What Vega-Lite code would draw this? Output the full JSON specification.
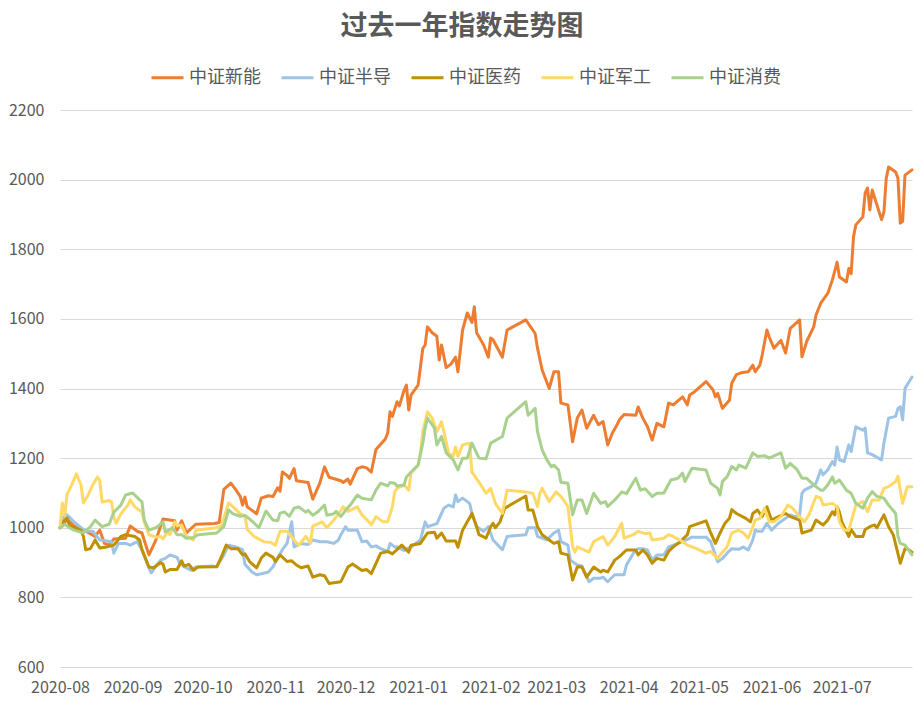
{
"$schema":"https://vega.github.io/schema/vega-lite/v6.json",
"width":852,"height":557,
"autosize":{"type":"none"},
"padding":{"left":60,"top":110,"right":12,"bottom":39},
"background":"white",
"title":{"text":"过去一年指数走势图","font":"Noto Sans CJK SC","fontSize":27,"fontWeight":"bold","color":"#595959","anchor":"middle","dx":-24,"offset":19},
"config":{"view":{"stroke":null}},
"data":{"values":[
{"series":"中证新能","date":"2020-08-01","value":1000},{"series":"中证新能","date":"2020-08-02","value":1005},{"series":"中证新能","date":"2020-08-04","value":1025},{"series":"中证新能","date":"2020-08-07","value":1005},{"series":"中证新能","date":"2020-08-12","value":990},{"series":"中证新能","date":"2020-08-16","value":975},{"series":"中证新能","date":"2020-08-18","value":993},{"series":"中证新能","date":"2020-08-20","value":955},{"series":"中证新能","date":"2020-08-22","value":950},{"series":"中证新能","date":"2020-08-24","value":968},{"series":"中证新能","date":"2020-08-29","value":970},{"series":"中证新能","date":"2020-08-31","value":1005},{"series":"中证新能","date":"2020-09-03","value":990},{"series":"中证新能","date":"2020-09-05","value":985},{"series":"中证新能","date":"2020-09-08","value":922},{"series":"中证新能","date":"2020-09-11","value":965},{"series":"中证新能","date":"2020-09-14","value":1025},{"series":"中证新能","date":"2020-09-19","value":1020},{"series":"中证新能","date":"2020-09-20","value":993},{"series":"中证新能","date":"2020-09-22","value":1020},{"series":"中证新能","date":"2020-09-24","value":985},{"series":"中证新能","date":"2020-09-28","value":1010},{"series":"中证新能","date":"2020-10-06","value":1012},{"series":"中证新能","date":"2020-10-08","value":1015},{"series":"中证新能","date":"2020-10-10","value":1110},{"series":"中证新能","date":"2020-10-13","value":1128},{"series":"中证新能","date":"2020-10-15","value":1110},{"series":"中证新能","date":"2020-10-17","value":1090},{"series":"中证新能","date":"2020-10-18","value":1065},{"series":"中证新能","date":"2020-10-19","value":1088},{"series":"中证新能","date":"2020-10-20","value":1060},{"series":"中证新能","date":"2020-10-24","value":1040},{"series":"中证新能","date":"2020-10-26","value":1085},{"series":"中证新能","date":"2020-10-29","value":1092},{"series":"中证新能","date":"2020-10-31","value":1090},{"series":"中证新能","date":"2020-11-02","value":1115},{"series":"中证新能","date":"2020-11-03","value":1105},{"series":"中证新能","date":"2020-11-04","value":1160},{"series":"中证新能","date":"2020-11-06","value":1150},{"series":"中证新能","date":"2020-11-07","value":1142},{"series":"中证新能","date":"2020-11-09","value":1170},{"series":"中证新能","date":"2020-11-10","value":1135},{"series":"中证新能","date":"2020-11-15","value":1130},{"series":"中证新能","date":"2020-11-17","value":1082},{"series":"中证新能","date":"2020-11-20","value":1128},{"series":"中证新能","date":"2020-11-22","value":1175},{"series":"中证新能","date":"2020-11-24","value":1145},{"series":"中证新能","date":"2020-11-29","value":1135},{"series":"中证新能","date":"2020-11-30","value":1130},{"series":"中证新能","date":"2020-12-02","value":1140},{"series":"中证新能","date":"2020-12-03","value":1125},{"series":"中证新能","date":"2020-12-06","value":1170},{"series":"中证新能","date":"2020-12-08","value":1175},{"series":"中证新能","date":"2020-12-10","value":1172},{"series":"中证新能","date":"2020-12-12","value":1160},{"series":"中证新能","date":"2020-12-14","value":1225},{"series":"中证新能","date":"2020-12-16","value":1240},{"series":"中证新能","date":"2020-12-18","value":1255},{"series":"中证新能","date":"2020-12-19","value":1272},{"series":"中证新能","date":"2020-12-20","value":1333},{"series":"中证新能","date":"2020-12-21","value":1320},{"series":"中证新能","date":"2020-12-23","value":1362},{"series":"中证新能","date":"2020-12-24","value":1350},{"series":"中证新能","date":"2020-12-26","value":1395},{"series":"中证新能","date":"2020-12-27","value":1410},{"series":"中证新能","date":"2020-12-28","value":1338},{"series":"中证新能","date":"2020-12-29","value":1382},{"series":"中证新能","date":"2021-01-01","value":1410},{"series":"中证新能","date":"2021-01-03","value":1515},{"series":"中证新能","date":"2021-01-04","value":1525},{"series":"中证新能","date":"2021-01-05","value":1577},{"series":"中证新能","date":"2021-01-07","value":1560},{"series":"中证新能","date":"2021-01-09","value":1550},{"series":"中证新能","date":"2021-01-10","value":1482},{"series":"中证新能","date":"2021-01-11","value":1525},{"series":"中证新能","date":"2021-01-13","value":1460},{"series":"中证新能","date":"2021-01-15","value":1470},{"series":"中证新能","date":"2021-01-17","value":1490},{"series":"中证新能","date":"2021-01-18","value":1448},{"series":"中证新能","date":"2021-01-20","value":1568},{"series":"中证新能","date":"2021-01-22","value":1617},{"series":"中证新能","date":"2021-01-24","value":1590},{"series":"中证新能","date":"2021-01-25","value":1635},{"series":"中证新能","date":"2021-01-26","value":1560},{"series":"中证新能","date":"2021-01-29","value":1525},{"series":"中证新能","date":"2021-01-31","value":1490},{"series":"中证新能","date":"2021-02-01","value":1545},{"series":"中证新能","date":"2021-02-02","value":1540},{"series":"中证新能","date":"2021-02-06","value":1490},{"series":"中证新能","date":"2021-02-08","value":1568},{"series":"中证新能","date":"2021-02-16","value":1597},{"series":"中证新能","date":"2021-02-20","value":1558},{"series":"中证新能","date":"2021-02-21","value":1516},{"series":"中证新能","date":"2021-02-23","value":1453},{"series":"中证新能","date":"2021-02-26","value":1400},{"series":"中证新能","date":"2021-02-28","value":1448},{"series":"中证新能","date":"2021-03-02","value":1448},{"series":"中证新能","date":"2021-03-03","value":1358},{"series":"中证新能","date":"2021-03-06","value":1353},{"series":"中证新能","date":"2021-03-08","value":1247},{"series":"中证新能","date":"2021-03-10","value":1315},{"series":"中证新能","date":"2021-03-12","value":1338},{"series":"中证新能","date":"2021-03-14","value":1286},{"series":"中证新能","date":"2021-03-17","value":1323},{"series":"中证新能","date":"2021-03-19","value":1296},{"series":"中证新能","date":"2021-03-21","value":1305},{"series":"中证新能","date":"2021-03-23","value":1238},{"series":"中证新能","date":"2021-03-25","value":1272},{"series":"中证新能","date":"2021-03-27","value":1296},{"series":"中证新能","date":"2021-03-28","value":1310},{"series":"中证新能","date":"2021-03-30","value":1325},{"series":"中证新能","date":"2021-04-04","value":1323},{"series":"中证新能","date":"2021-04-05","value":1347},{"series":"中证新能","date":"2021-04-07","value":1315},{"series":"中证新能","date":"2021-04-09","value":1290},{"series":"中证新能","date":"2021-04-11","value":1252},{"series":"中证新能","date":"2021-04-13","value":1300},{"series":"中证新能","date":"2021-04-16","value":1290},{"series":"中证新能","date":"2021-04-18","value":1358},{"series":"中证新能","date":"2021-04-20","value":1353},{"series":"中证新能","date":"2021-04-24","value":1376},{"series":"中证新能","date":"2021-04-26","value":1353},{"series":"中证新能","date":"2021-04-27","value":1381},{"series":"中证新能","date":"2021-04-29","value":1390},{"series":"中证新能","date":"2021-05-04","value":1420},{"series":"中证新能","date":"2021-05-07","value":1396},{"series":"中证新能","date":"2021-05-08","value":1376},{"series":"中证新能","date":"2021-05-09","value":1386},{"series":"中证新能","date":"2021-05-11","value":1343},{"series":"中证新能","date":"2021-05-14","value":1366},{"series":"中证新能","date":"2021-05-15","value":1415},{"series":"中证新能","date":"2021-05-17","value":1440},{"series":"中证新能","date":"2021-05-19","value":1445},{"series":"中证新能","date":"2021-05-22","value":1448},{"series":"中证新能","date":"2021-05-24","value":1467},{"series":"中证新能","date":"2021-05-25","value":1448},{"series":"中证新能","date":"2021-05-27","value":1467},{"series":"中证新能","date":"2021-05-28","value":1496},{"series":"中证新能","date":"2021-05-30","value":1568},{"series":"中证新能","date":"2021-05-31","value":1548},{"series":"中证新能","date":"2021-06-02","value":1516},{"series":"中证新能","date":"2021-06-05","value":1538},{"series":"中证新能","date":"2021-06-07","value":1502},{"series":"中证新能","date":"2021-06-09","value":1573},{"series":"中证新能","date":"2021-06-13","value":1597},{"series":"中证新能","date":"2021-06-14","value":1491},{"series":"中证新能","date":"2021-06-16","value":1535},{"series":"中证新能","date":"2021-06-19","value":1577},{"series":"中证新能","date":"2021-06-20","value":1611},{"series":"中证新能","date":"2021-06-22","value":1645},{"series":"中证新能","date":"2021-06-25","value":1673},{"series":"中证新能","date":"2021-06-27","value":1712},{"series":"中证新能","date":"2021-06-29","value":1763},{"series":"中证新能","date":"2021-06-30","value":1720},{"series":"中证新能","date":"2021-07-03","value":1706},{"series":"中证新能","date":"2021-07-04","value":1745},{"series":"中证新能","date":"2021-07-05","value":1730},{"series":"中证新能","date":"2021-07-06","value":1835},{"series":"中证新能","date":"2021-07-07","value":1870},{"series":"中证新能","date":"2021-07-10","value":1893},{"series":"中证新能","date":"2021-07-11","value":1962},{"series":"中证新能","date":"2021-07-12","value":1976},{"series":"中证新能","date":"2021-07-13","value":1913},{"series":"中证新能","date":"2021-07-14","value":1970},{"series":"中证新能","date":"2021-07-18","value":1885},{"series":"中证新能","date":"2021-07-19","value":1907},{"series":"中证新能","date":"2021-07-20","value":2004},{"series":"中证新能","date":"2021-07-21","value":2036},{"series":"中证新能","date":"2021-07-24","value":2022},{"series":"中证新能","date":"2021-07-25","value":2004},{"series":"中证新能","date":"2021-07-26","value":1875},{"series":"中证新能","date":"2021-07-27","value":1880},{"series":"中证新能","date":"2021-07-28","value":2013},{"series":"中证新能","date":"2021-07-31","value":2028},
{"series":"中证半导","date":"2020-08-01","value":1000},{"series":"中证半导","date":"2020-08-02","value":1028},{"series":"中证半导","date":"2020-08-04","value":1037},{"series":"中证半导","date":"2020-08-07","value":1017},{"series":"中证半导","date":"2020-08-10","value":1000},{"series":"中证半导","date":"2020-08-12","value":990},{"series":"中证半导","date":"2020-08-15","value":990},{"series":"中证半导","date":"2020-08-18","value":965},{"series":"中证半导","date":"2020-08-21","value":962},{"series":"中证半导","date":"2020-08-23","value":960},{"series":"中证半导","date":"2020-08-24","value":927},{"series":"中证半导","date":"2020-08-26","value":955},{"series":"中证半导","date":"2020-08-29","value":955},{"series":"中证半导","date":"2020-08-31","value":950},{"series":"中证半导","date":"2020-09-03","value":960},{"series":"中证半导","date":"2020-09-05","value":937},{"series":"中证半导","date":"2020-09-08","value":885},{"series":"中证半导","date":"2020-09-09","value":870},{"series":"中证半导","date":"2020-09-11","value":890},{"series":"中证半导","date":"2020-09-13","value":907},{"series":"中证半导","date":"2020-09-15","value":912},{"series":"中证半导","date":"2020-09-17","value":922},{"series":"中证半导","date":"2020-09-20","value":915},{"series":"中证半导","date":"2020-09-21","value":900},{"series":"中证半导","date":"2020-09-23","value":888},{"series":"中证半导","date":"2020-09-26","value":878},{"series":"中证半导","date":"2020-09-28","value":887},{"series":"中证半导","date":"2020-10-05","value":890},{"series":"中证半导","date":"2020-10-07","value":888},{"series":"中证半导","date":"2020-10-10","value":922},{"series":"中证半导","date":"2020-10-12","value":950},{"series":"中证半导","date":"2020-10-15","value":945},{"series":"中证半导","date":"2020-10-18","value":937},{"series":"中证半导","date":"2020-10-19","value":895},{"series":"中证半导","date":"2020-10-22","value":873},{"series":"中证半导","date":"2020-10-24","value":865},{"series":"中证半导","date":"2020-10-26","value":868},{"series":"中证半导","date":"2020-10-29","value":873},{"series":"中证半导","date":"2020-10-31","value":888},{"series":"中证半导","date":"2020-11-02","value":913},{"series":"中证半导","date":"2020-11-04","value":937},{"series":"中证半导","date":"2020-11-06","value":955},{"series":"中证半导","date":"2020-11-08","value":1017},{"series":"中证半导","date":"2020-11-09","value":945},{"series":"中证半导","date":"2020-11-12","value":955},{"series":"中证半导","date":"2020-11-15","value":952},{"series":"中证半导","date":"2020-11-17","value":965},{"series":"中证半导","date":"2020-11-20","value":960},{"series":"中证半导","date":"2020-11-23","value":960},{"series":"中证半导","date":"2020-11-26","value":955},{"series":"中证半导","date":"2020-11-28","value":965},{"series":"中证半导","date":"2020-11-29","value":980},{"series":"中证半导","date":"2020-12-01","value":1003},{"series":"中证半导","date":"2020-12-02","value":993},{"series":"中证半导","date":"2020-12-06","value":993},{"series":"中证半导","date":"2020-12-08","value":960},{"series":"中证半导","date":"2020-12-10","value":962},{"series":"中证半导","date":"2020-12-12","value":945},{"series":"中证半导","date":"2020-12-14","value":948},{"series":"中证半导","date":"2020-12-16","value":940},{"series":"中证半导","date":"2020-12-19","value":932},{"series":"中证半导","date":"2020-12-20","value":955},{"series":"中证半导","date":"2020-12-22","value":945},{"series":"中证半导","date":"2020-12-23","value":945},{"series":"中证半导","date":"2020-12-26","value":935},{"series":"中证半导","date":"2020-12-29","value":945},{"series":"中证半导","date":"2021-01-02","value":965},{"series":"中证半导","date":"2021-01-04","value":1017},{"series":"中证半导","date":"2021-01-05","value":1003},{"series":"中证半导","date":"2021-01-09","value":1012},{"series":"中证半导","date":"2021-01-12","value":1056},{"series":"中证半导","date":"2021-01-14","value":1065},{"series":"中证半导","date":"2021-01-16","value":1060},{"series":"中证半导","date":"2021-01-17","value":1094},{"series":"中证半导","date":"2021-01-18","value":1075},{"series":"中证半导","date":"2021-01-20","value":1085},{"series":"中证半导","date":"2021-01-23","value":1070},{"series":"中证半导","date":"2021-01-24","value":1041},{"series":"中证半导","date":"2021-01-26","value":1003},{"series":"中证半导","date":"2021-01-29","value":990},{"series":"中证半导","date":"2021-01-31","value":1003},{"series":"中证半导","date":"2021-02-02","value":965},{"series":"中证半导","date":"2021-02-06","value":937},{"series":"中证半导","date":"2021-02-08","value":975},{"series":"中证半导","date":"2021-02-16","value":980},{"series":"中证半导","date":"2021-02-17","value":1000},{"series":"中证半导","date":"2021-02-20","value":1000},{"series":"中证半导","date":"2021-02-21","value":975},{"series":"中证半导","date":"2021-02-25","value":965},{"series":"中证半导","date":"2021-02-28","value":985},{"series":"中证半导","date":"2021-03-02","value":993},{"series":"中证半导","date":"2021-03-03","value":960},{"series":"中证半导","date":"2021-03-06","value":950},{"series":"中证半导","date":"2021-03-07","value":907},{"series":"中证半导","date":"2021-03-10","value":893},{"series":"中证半导","date":"2021-03-12","value":890},{"series":"中证半导","date":"2021-03-15","value":845},{"series":"中证半导","date":"2021-03-17","value":855},{"series":"中证半导","date":"2021-03-20","value":855},{"series":"中证半导","date":"2021-03-21","value":858},{"series":"中证半导","date":"2021-03-23","value":845},{"series":"中证半导","date":"2021-03-26","value":865},{"series":"中证半导","date":"2021-03-30","value":865},{"series":"中证半导","date":"2021-03-31","value":893},{"series":"中证半导","date":"2021-04-03","value":927},{"series":"中证半导","date":"2021-04-05","value":940},{"series":"中证半导","date":"2021-04-07","value":940},{"series":"中证半导","date":"2021-04-09","value":936},{"series":"中证半导","date":"2021-04-11","value":907},{"series":"中证半导","date":"2021-04-13","value":922},{"series":"中证半导","date":"2021-04-16","value":922},{"series":"中证半导","date":"2021-04-18","value":945},{"series":"中证半导","date":"2021-04-22","value":955},{"series":"中证半导","date":"2021-04-24","value":960},{"series":"中证半导","date":"2021-04-28","value":973},{"series":"中证半导","date":"2021-05-04","value":973},{"series":"中证半导","date":"2021-05-06","value":960},{"series":"中证半导","date":"2021-05-09","value":902},{"series":"中证半导","date":"2021-05-11","value":912},{"series":"中证半导","date":"2021-05-13","value":927},{"series":"中证半导","date":"2021-05-15","value":940},{"series":"中证半导","date":"2021-05-18","value":938},{"series":"中证半导","date":"2021-05-20","value":945},{"series":"中证半导","date":"2021-05-22","value":936},{"series":"中证半导","date":"2021-05-24","value":965},{"series":"中证半导","date":"2021-05-25","value":993},{"series":"中证半导","date":"2021-05-26","value":990},{"series":"中证半导","date":"2021-05-28","value":990},{"series":"中证半导","date":"2021-05-30","value":1013},{"series":"中证半导","date":"2021-06-01","value":993},{"series":"中证半导","date":"2021-06-04","value":1013},{"series":"中证半导","date":"2021-06-07","value":1027},{"series":"中证半导","date":"2021-06-09","value":1037},{"series":"中证半导","date":"2021-06-11","value":1032},{"series":"中证半导","date":"2021-06-13","value":1037},{"series":"中证半导","date":"2021-06-14","value":1099},{"series":"中证半导","date":"2021-06-15","value":1108},{"series":"中证半导","date":"2021-06-18","value":1118},{"series":"中证半导","date":"2021-06-20","value":1128},{"series":"中证半导","date":"2021-06-22","value":1166},{"series":"中证半导","date":"2021-06-23","value":1152},{"series":"中证半导","date":"2021-06-25","value":1166},{"series":"中证半导","date":"2021-06-27","value":1190},{"series":"中证半导","date":"2021-06-28","value":1180},{"series":"中证半导","date":"2021-06-29","value":1232},{"series":"中证半导","date":"2021-06-30","value":1195},{"series":"中证半导","date":"2021-07-02","value":1190},{"series":"中证半导","date":"2021-07-04","value":1238},{"series":"中证半导","date":"2021-07-05","value":1219},{"series":"中证半导","date":"2021-07-07","value":1290},{"series":"中证半导","date":"2021-07-10","value":1280},{"series":"中证半导","date":"2021-07-11","value":1286},{"series":"中证半导","date":"2021-07-12","value":1215},{"series":"中证半导","date":"2021-07-14","value":1210},{"series":"中证半导","date":"2021-07-18","value":1195},{"series":"中证半导","date":"2021-07-19","value":1243},{"series":"中证半导","date":"2021-07-21","value":1315},{"series":"中证半导","date":"2021-07-24","value":1320},{"series":"中证半导","date":"2021-07-25","value":1343},{"series":"中证半导","date":"2021-07-26","value":1348},{"series":"中证半导","date":"2021-07-27","value":1310},{"series":"中证半导","date":"2021-07-28","value":1400},{"series":"中证半导","date":"2021-07-31","value":1433},
{"series":"中证医药","date":"2020-08-01","value":1000},{"series":"中证医药","date":"2020-08-03","value":1022},{"series":"中证医药","date":"2020-08-04","value":1028},{"series":"中证医药","date":"2020-08-05","value":1008},{"series":"中证医药","date":"2020-08-07","value":1000},{"series":"中证医药","date":"2020-08-10","value":993},{"series":"中证医药","date":"2020-08-11","value":975},{"series":"中证医药","date":"2020-08-12","value":937},{"series":"中证医药","date":"2020-08-14","value":940},{"series":"中证医药","date":"2020-08-16","value":965},{"series":"中证医药","date":"2020-08-18","value":942},{"series":"中证医药","date":"2020-08-21","value":945},{"series":"中证医药","date":"2020-08-24","value":950},{"series":"中证医药","date":"2020-08-27","value":975},{"series":"中证医药","date":"2020-08-29","value":980},{"series":"中证医药","date":"2020-09-02","value":975},{"series":"中证医药","date":"2020-09-04","value":965},{"series":"中证医药","date":"2020-09-05","value":937},{"series":"中证医药","date":"2020-09-08","value":887},{"series":"中证医药","date":"2020-09-10","value":885},{"series":"中证医药","date":"2020-09-13","value":900},{"series":"中证医药","date":"2020-09-14","value":895},{"series":"中证医药","date":"2020-09-15","value":873},{"series":"中证医药","date":"2020-09-17","value":880},{"series":"中证医药","date":"2020-09-20","value":880},{"series":"中证医药","date":"2020-09-22","value":905},{"series":"中证医药","date":"2020-09-23","value":890},{"series":"中证医药","date":"2020-09-25","value":895},{"series":"中证医药","date":"2020-09-27","value":878},{"series":"中证医药","date":"2020-09-29","value":887},{"series":"中证医药","date":"2020-10-07","value":888},{"series":"中证医药","date":"2020-10-09","value":917},{"series":"中证医药","date":"2020-10-11","value":950},{"series":"中证医药","date":"2020-10-13","value":940},{"series":"中证医药","date":"2020-10-16","value":940},{"series":"中证医药","date":"2020-10-18","value":922},{"series":"中证医药","date":"2020-10-19","value":925},{"series":"中证医药","date":"2020-10-21","value":903},{"series":"中证医药","date":"2020-10-24","value":885},{"series":"中证医药","date":"2020-10-26","value":913},{"series":"中证医药","date":"2020-10-28","value":927},{"series":"中证医药","date":"2020-10-31","value":915},{"series":"中证医药","date":"2020-11-01","value":903},{"series":"中证医药","date":"2020-11-03","value":922},{"series":"中证医药","date":"2020-11-06","value":903},{"series":"中证医药","date":"2020-11-08","value":905},{"series":"中证医药","date":"2020-11-10","value":893},{"series":"中证医药","date":"2020-11-12","value":885},{"series":"中证医药","date":"2020-11-15","value":890},{"series":"中证医药","date":"2020-11-17","value":858},{"series":"中证医药","date":"2020-11-20","value":865},{"series":"中证医药","date":"2020-11-22","value":862},{"series":"中证医药","date":"2020-11-24","value":840},{"series":"中证医药","date":"2020-11-26","value":842},{"series":"中证医药","date":"2020-11-29","value":845},{"series":"中证医药","date":"2020-12-02","value":887},{"series":"中证医药","date":"2020-12-04","value":896},{"series":"中证医药","date":"2020-12-08","value":877},{"series":"中证医药","date":"2020-12-10","value":880},{"series":"中证医药","date":"2020-12-12","value":868},{"series":"中证医药","date":"2020-12-16","value":927},{"series":"中证医药","date":"2020-12-19","value":932},{"series":"中证医药","date":"2020-12-21","value":925},{"series":"中证医药","date":"2020-12-25","value":950},{"series":"中证医药","date":"2020-12-28","value":930},{"series":"中证医药","date":"2020-12-29","value":950},{"series":"中证医药","date":"2021-01-02","value":955},{"series":"中证医药","date":"2021-01-05","value":985},{"series":"中证医药","date":"2021-01-08","value":987},{"series":"中证医药","date":"2021-01-09","value":970},{"series":"中证医药","date":"2021-01-11","value":985},{"series":"中证医药","date":"2021-01-13","value":962},{"series":"中证医药","date":"2021-01-17","value":962},{"series":"中证医药","date":"2021-01-18","value":944},{"series":"中证医药","date":"2021-01-20","value":993},{"series":"中证医药","date":"2021-01-22","value":1017},{"series":"中证医药","date":"2021-01-24","value":1041},{"series":"中证医药","date":"2021-01-26","value":1003},{"series":"中证医药","date":"2021-01-27","value":980},{"series":"中证医药","date":"2021-01-30","value":970},{"series":"中证医药","date":"2021-02-01","value":1003},{"series":"中证医药","date":"2021-02-02","value":1013},{"series":"中证医药","date":"2021-02-03","value":1000},{"series":"中证医药","date":"2021-02-05","value":1017},{"series":"中证医药","date":"2021-02-07","value":1056},{"series":"中证医药","date":"2021-02-08","value":1060},{"series":"中证医药","date":"2021-02-16","value":1091},{"series":"中证医药","date":"2021-02-17","value":1051},{"series":"中证医药","date":"2021-02-19","value":1051},{"series":"中证医药","date":"2021-02-21","value":1003},{"series":"中证医药","date":"2021-02-23","value":980},{"series":"中证医药","date":"2021-02-26","value":965},{"series":"中证医药","date":"2021-02-28","value":955},{"series":"中证医药","date":"2021-03-02","value":960},{"series":"中证医药","date":"2021-03-03","value":927},{"series":"中证医药","date":"2021-03-06","value":922},{"series":"中证医药","date":"2021-03-08","value":850},{"series":"中证医药","date":"2021-03-10","value":887},{"series":"中证医药","date":"2021-03-12","value":887},{"series":"中证医药","date":"2021-03-14","value":858},{"series":"中证医药","date":"2021-03-17","value":887},{"series":"中证医药","date":"2021-03-20","value":873},{"series":"中证医药","date":"2021-03-21","value":878},{"series":"中证医药","date":"2021-03-23","value":873},{"series":"中证医药","date":"2021-03-26","value":907},{"series":"中证医药","date":"2021-03-28","value":917},{"series":"中证医药","date":"2021-03-31","value":936},{"series":"中证医药","date":"2021-04-04","value":936},{"series":"中证医药","date":"2021-04-05","value":922},{"series":"中证医药","date":"2021-04-07","value":936},{"series":"中证医药","date":"2021-04-09","value":922},{"series":"中证医药","date":"2021-04-11","value":898},{"series":"中证医药","date":"2021-04-13","value":912},{"series":"中证医药","date":"2021-04-16","value":907},{"series":"中证医药","date":"2021-04-18","value":932},{"series":"中证医药","date":"2021-04-20","value":945},{"series":"中证医药","date":"2021-04-23","value":960},{"series":"中证医药","date":"2021-04-26","value":980},{"series":"中证医药","date":"2021-04-27","value":1003},{"series":"中证医药","date":"2021-05-04","value":1020},{"series":"中证医药","date":"2021-05-06","value":985},{"series":"中证医药","date":"2021-05-08","value":955},{"series":"中证医药","date":"2021-05-10","value":985},{"series":"中证医药","date":"2021-05-12","value":1012},{"series":"中证医药","date":"2021-05-14","value":1027},{"series":"中证医药","date":"2021-05-15","value":1052},{"series":"中证医药","date":"2021-05-17","value":1041},{"series":"中证医药","date":"2021-05-21","value":1027},{"series":"中证医药","date":"2021-05-23","value":1017},{"series":"中证医药","date":"2021-05-24","value":1041},{"series":"中证医药","date":"2021-05-26","value":1051},{"series":"中证医药","date":"2021-05-28","value":1032},{"series":"中证医药","date":"2021-05-30","value":1060},{"series":"中证医药","date":"2021-06-01","value":1022},{"series":"中证医药","date":"2021-06-04","value":1032},{"series":"中证医药","date":"2021-06-07","value":1041},{"series":"中证医药","date":"2021-06-09","value":1032},{"series":"中证医药","date":"2021-06-11","value":1027},{"series":"中证医药","date":"2021-06-13","value":1022},{"series":"中证医药","date":"2021-06-14","value":985},{"series":"中证医药","date":"2021-06-18","value":993},{"series":"中证医药","date":"2021-06-20","value":1022},{"series":"中证医药","date":"2021-06-23","value":1008},{"series":"中证医药","date":"2021-06-25","value":1022},{"series":"中证医药","date":"2021-06-27","value":1046},{"series":"中证医药","date":"2021-06-28","value":1037},{"series":"中证医药","date":"2021-06-29","value":1060},{"series":"中证医药","date":"2021-06-30","value":1045},{"series":"中证医药","date":"2021-07-01","value":1017},{"series":"中证医药","date":"2021-07-04","value":975},{"series":"中证医药","date":"2021-07-05","value":995},{"series":"中证医药","date":"2021-07-07","value":975},{"series":"中证医药","date":"2021-07-10","value":975},{"series":"中证医药","date":"2021-07-11","value":995},{"series":"中证医药","date":"2021-07-13","value":1003},{"series":"中证医药","date":"2021-07-15","value":1008},{"series":"中证医药","date":"2021-07-16","value":1000},{"series":"中证医药","date":"2021-07-19","value":1037},{"series":"中证医药","date":"2021-07-21","value":1003},{"series":"中证医药","date":"2021-07-23","value":980},{"series":"中证医药","date":"2021-07-26","value":898},{"series":"中证医药","date":"2021-07-28","value":940},{"series":"中证医药","date":"2021-07-29","value":940},{"series":"中证医药","date":"2021-07-31","value":930},
{"series":"中证军工","date":"2020-08-01","value":1000},{"series":"中证军工","date":"2020-08-02","value":1071},{"series":"中证军工","date":"2020-08-03","value":1035},{"series":"中证军工","date":"2020-08-04","value":1095},{"series":"中证军工","date":"2020-08-06","value":1123},{"series":"中证军工","date":"2020-08-08","value":1155},{"series":"中证军工","date":"2020-08-10","value":1123},{"series":"中证军工","date":"2020-08-11","value":1071},{"series":"中证军工","date":"2020-08-13","value":1094},{"series":"中证军工","date":"2020-08-15","value":1123},{"series":"中证军工","date":"2020-08-17","value":1146},{"series":"中证军工","date":"2020-08-18","value":1135},{"series":"中证军工","date":"2020-08-19","value":1074},{"series":"中证军工","date":"2020-08-22","value":1078},{"series":"中证军工","date":"2020-08-23","value":1075},{"series":"中证军工","date":"2020-08-24","value":1031},{"series":"中证军工","date":"2020-08-25","value":1013},{"series":"中证军工","date":"2020-08-27","value":1040},{"series":"中证军工","date":"2020-08-30","value":1065},{"series":"中证军工","date":"2020-08-31","value":1080},{"series":"中证军工","date":"2020-09-02","value":1060},{"series":"中证军工","date":"2020-09-05","value":1045},{"series":"中证军工","date":"2020-09-06","value":1017},{"series":"中证军工","date":"2020-09-08","value":980},{"series":"中证军工","date":"2020-09-11","value":973},{"series":"中证军工","date":"2020-09-13","value":975},{"series":"中证军工","date":"2020-09-14","value":968},{"series":"中证军工","date":"2020-09-16","value":988},{"series":"中证军工","date":"2020-09-17","value":980},{"series":"中证军工","date":"2020-09-19","value":1017},{"series":"中证军工","date":"2020-09-20","value":1005},{"series":"中证军工","date":"2020-09-22","value":1008},{"series":"中证军工","date":"2020-09-24","value":975},{"series":"中证军工","date":"2020-09-27","value":965},{"series":"中证军工","date":"2020-09-28","value":993},{"series":"中证军工","date":"2020-10-07","value":1000},{"series":"中证军工","date":"2020-10-09","value":1005},{"series":"中证军工","date":"2020-10-12","value":1071},{"series":"中证军工","date":"2020-10-14","value":1060},{"series":"中证军工","date":"2020-10-17","value":1040},{"series":"中证军工","date":"2020-10-19","value":1035},{"series":"中证军工","date":"2020-10-20","value":995},{"series":"中证军工","date":"2020-10-23","value":975},{"series":"中证军工","date":"2020-10-27","value":960},{"series":"中证军工","date":"2020-10-30","value":958},{"series":"中证军工","date":"2020-11-01","value":950},{"series":"中证军工","date":"2020-11-03","value":990},{"series":"中证军工","date":"2020-11-06","value":990},{"series":"中证军工","date":"2020-11-09","value":965},{"series":"中证军工","date":"2020-11-11","value":950},{"series":"中证军工","date":"2020-11-14","value":975},{"series":"中证军工","date":"2020-11-16","value":955},{"series":"中证军工","date":"2020-11-17","value":1005},{"series":"中证军工","date":"2020-11-21","value":1017},{"series":"中证军工","date":"2020-11-23","value":1000},{"series":"中证军工","date":"2020-11-26","value":1022},{"series":"中证军工","date":"2020-11-28","value":1040},{"series":"中证军工","date":"2020-11-30","value":1060},{"series":"中证军工","date":"2020-12-02","value":1047},{"series":"中证军工","date":"2020-12-06","value":1060},{"series":"中证军工","date":"2020-12-08","value":1037},{"series":"中证军工","date":"2020-12-11","value":1017},{"series":"中证军工","date":"2020-12-12","value":1008},{"series":"中证军工","date":"2020-12-14","value":1032},{"series":"中证军工","date":"2020-12-17","value":1017},{"series":"中证军工","date":"2020-12-19","value":1017},{"series":"中证军工","date":"2020-12-21","value":1060},{"series":"中证军工","date":"2020-12-22","value":1103},{"series":"中证军工","date":"2020-12-23","value":1113},{"series":"中证军工","date":"2020-12-26","value":1123},{"series":"中证军工","date":"2020-12-28","value":1108},{"series":"中证军工","date":"2020-12-29","value":1157},{"series":"中证军工","date":"2021-01-01","value":1180},{"series":"中证军工","date":"2021-01-02","value":1215},{"series":"中证军工","date":"2021-01-03","value":1276},{"series":"中证军工","date":"2021-01-05","value":1333},{"series":"中证军工","date":"2021-01-07","value":1315},{"series":"中证军工","date":"2021-01-09","value":1276},{"series":"中证军工","date":"2021-01-11","value":1305},{"series":"中证军工","date":"2021-01-12","value":1276},{"series":"中证军工","date":"2021-01-14","value":1215},{"series":"中证军工","date":"2021-01-16","value":1205},{"series":"中证军工","date":"2021-01-17","value":1232},{"series":"中证军工","date":"2021-01-18","value":1205},{"series":"中证军工","date":"2021-01-20","value":1238},{"series":"中证军工","date":"2021-01-23","value":1243},{"series":"中证军工","date":"2021-01-24","value":1160},{"series":"中证军工","date":"2021-01-27","value":1131},{"series":"中证军工","date":"2021-01-30","value":1099},{"series":"中证军工","date":"2021-02-01","value":1113},{"series":"中证军工","date":"2021-02-03","value":1070},{"series":"中证军工","date":"2021-02-06","value":1041},{"series":"中证军工","date":"2021-02-08","value":1108},{"series":"中证军工","date":"2021-02-16","value":1103},{"series":"中证军工","date":"2021-02-19","value":1099},{"series":"中证军工","date":"2021-02-21","value":1061},{"series":"中证军工","date":"2021-02-22","value":1099},{"series":"中证军工","date":"2021-02-23","value":1113},{"series":"中证军工","date":"2021-02-26","value":1075},{"series":"中证军工","date":"2021-03-01","value":1103},{"series":"中证军工","date":"2021-03-03","value":1090},{"series":"中证军工","date":"2021-03-06","value":1061},{"series":"中证军工","date":"2021-03-08","value":945},{"series":"中证军工","date":"2021-03-09","value":930},{"series":"中证军工","date":"2021-03-10","value":945},{"series":"中证军工","date":"2021-03-15","value":930},{"series":"中证军工","date":"2021-03-17","value":960},{"series":"中证军工","date":"2021-03-21","value":975},{"series":"中证军工","date":"2021-03-23","value":950},{"series":"中证军工","date":"2021-03-26","value":975},{"series":"中证军工","date":"2021-03-29","value":1013},{"series":"中证军工","date":"2021-03-30","value":970},{"series":"中证军工","date":"2021-04-03","value":980},{"series":"中证军工","date":"2021-04-05","value":990},{"series":"中证军工","date":"2021-04-08","value":983},{"series":"中证军工","date":"2021-04-10","value":985},{"series":"中证军工","date":"2021-04-11","value":965},{"series":"中证军工","date":"2021-04-16","value":970},{"series":"中证军工","date":"2021-04-18","value":980},{"series":"中证军工","date":"2021-04-20","value":975},{"series":"中证军工","date":"2021-04-24","value":960},{"series":"中证军工","date":"2021-04-26","value":950},{"series":"中证军工","date":"2021-04-30","value":940},{"series":"中证军工","date":"2021-05-04","value":927},{"series":"中证军工","date":"2021-05-06","value":932},{"series":"中证军工","date":"2021-05-09","value":912},{"series":"中证军工","date":"2021-05-10","value":922},{"series":"中证军工","date":"2021-05-13","value":945},{"series":"中证军工","date":"2021-05-15","value":985},{"series":"中证军工","date":"2021-05-18","value":993},{"series":"中证军工","date":"2021-05-20","value":985},{"series":"中证军工","date":"2021-05-22","value":970},{"series":"中证军工","date":"2021-05-24","value":1003},{"series":"中证军工","date":"2021-05-25","value":1022},{"series":"中证军工","date":"2021-05-27","value":1027},{"series":"中证军工","date":"2021-05-29","value":1056},{"series":"中证军工","date":"2021-05-31","value":1017},{"series":"中证军工","date":"2021-06-02","value":1017},{"series":"中证军工","date":"2021-06-05","value":1032},{"series":"中证军工","date":"2021-06-08","value":1065},{"series":"中证军工","date":"2021-06-10","value":1056},{"series":"中证军工","date":"2021-06-13","value":1032},{"series":"中证军工","date":"2021-06-15","value":1017},{"series":"中证军工","date":"2021-06-17","value":1037},{"series":"中证军工","date":"2021-06-20","value":1090},{"series":"中证军工","date":"2021-06-22","value":1085},{"series":"中证军工","date":"2021-06-23","value":1065},{"series":"中证军工","date":"2021-06-27","value":1070},{"series":"中证军工","date":"2021-06-29","value":1060},{"series":"中证军工","date":"2021-06-30","value":1017},{"series":"中证军工","date":"2021-07-02","value":993},{"series":"中证军工","date":"2021-07-04","value":993},{"series":"中证军工","date":"2021-07-07","value":1065},{"series":"中证军工","date":"2021-07-10","value":1075},{"series":"中证军工","date":"2021-07-12","value":1046},{"series":"中证军工","date":"2021-07-14","value":1080},{"series":"中证军工","date":"2021-07-17","value":1080},{"series":"中证军工","date":"2021-07-19","value":1113},{"series":"中证军工","date":"2021-07-21","value":1118},{"series":"中证军工","date":"2021-07-24","value":1133},{"series":"中证军工","date":"2021-07-25","value":1148},{"series":"中证军工","date":"2021-07-27","value":1070},{"series":"中证军工","date":"2021-07-29","value":1118},{"series":"中证军工","date":"2021-07-31","value":1118},
{"series":"中证消费","date":"2020-08-01","value":1000},{"series":"中证消费","date":"2020-08-03","value":1010},{"series":"中证消费","date":"2020-08-05","value":1000},{"series":"中证消费","date":"2020-08-07","value":993},{"series":"中证消费","date":"2020-08-11","value":985},{"series":"中证消费","date":"2020-08-14","value":1003},{"series":"中证消费","date":"2020-08-16","value":1022},{"series":"中证消费","date":"2020-08-19","value":1003},{"series":"中证消费","date":"2020-08-22","value":1010},{"series":"中证消费","date":"2020-08-24","value":1045},{"series":"中证消费","date":"2020-08-27","value":1065},{"series":"中证消费","date":"2020-08-29","value":1094},{"series":"中证消费","date":"2020-09-01","value":1100},{"series":"中证消费","date":"2020-09-04","value":1080},{"series":"中证消费","date":"2020-09-05","value":1075},{"series":"中证消费","date":"2020-09-06","value":1022},{"series":"中证消费","date":"2020-09-08","value":993},{"series":"中证消费","date":"2020-09-11","value":1000},{"series":"中证消费","date":"2020-09-14","value":1017},{"series":"中证消费","date":"2020-09-15","value":988},{"series":"中证消费","date":"2020-09-18","value":1000},{"series":"中证消费","date":"2020-09-20","value":980},{"series":"中证消费","date":"2020-09-22","value":980},{"series":"中证消费","date":"2020-09-24","value":970},{"series":"中证消费","date":"2020-09-27","value":972},{"series":"中证消费","date":"2020-09-29","value":980},{"series":"中证消费","date":"2020-10-07","value":985},{"series":"中证消费","date":"2020-10-10","value":1003},{"series":"中证消费","date":"2020-10-12","value":1051},{"series":"中证消费","date":"2020-10-14","value":1040},{"series":"中证消费","date":"2020-10-17","value":1033},{"series":"中证消费","date":"2020-10-19","value":1035},{"series":"中证消费","date":"2020-10-21","value":1025},{"series":"中证消费","date":"2020-10-23","value":1013},{"series":"中证消费","date":"2020-10-25","value":1000},{"series":"中证消费","date":"2020-10-28","value":1048},{"series":"中证消费","date":"2020-10-31","value":1022},{"series":"中证消费","date":"2020-11-02","value":1020},{"series":"中证消费","date":"2020-11-03","value":1042},{"series":"中证消费","date":"2020-11-05","value":1045},{"series":"中证消费","date":"2020-11-07","value":1033},{"series":"中证消费","date":"2020-11-09","value":1056},{"series":"中证消费","date":"2020-11-11","value":1060},{"series":"中证消费","date":"2020-11-14","value":1045},{"series":"中证消费","date":"2020-11-15","value":1050},{"series":"中证消费","date":"2020-11-17","value":1036},{"series":"中证消费","date":"2020-11-19","value":1045},{"series":"中证消费","date":"2020-11-22","value":1065},{"series":"中证消费","date":"2020-11-23","value":1036},{"series":"中证消费","date":"2020-11-26","value":1040},{"series":"中证消费","date":"2020-11-27","value":1047},{"series":"中证消费","date":"2020-11-29","value":1032},{"series":"中证消费","date":"2020-12-01","value":1050},{"series":"中证消费","date":"2020-12-03","value":1065},{"series":"中证消费","date":"2020-12-06","value":1094},{"series":"中证消费","date":"2020-12-08","value":1085},{"series":"中证消费","date":"2020-12-12","value":1080},{"series":"中证消费","date":"2020-12-14","value":1108},{"series":"中证消费","date":"2020-12-16","value":1128},{"series":"中证消费","date":"2020-12-19","value":1120},{"series":"中证消费","date":"2020-12-20","value":1130},{"series":"中证消费","date":"2020-12-22","value":1128},{"series":"中证消费","date":"2020-12-23","value":1120},{"series":"中证消费","date":"2020-12-26","value":1123},{"series":"中证消费","date":"2020-12-27","value":1146},{"series":"中证消费","date":"2020-12-29","value":1160},{"series":"中证消费","date":"2021-01-01","value":1180},{"series":"中证消费","date":"2021-01-03","value":1243},{"series":"中证消费","date":"2021-01-04","value":1286},{"series":"中证消费","date":"2021-01-05","value":1315},{"series":"中证消费","date":"2021-01-08","value":1286},{"series":"中证消费","date":"2021-01-09","value":1238},{"series":"中证消费","date":"2021-01-11","value":1262},{"series":"中证消费","date":"2021-01-13","value":1215},{"series":"中证消费","date":"2021-01-16","value":1195},{"series":"中证消费","date":"2021-01-18","value":1166},{"series":"中证消费","date":"2021-01-20","value":1200},{"series":"中证消费","date":"2021-01-22","value":1200},{"series":"中证消费","date":"2021-01-24","value":1243},{"series":"中证消费","date":"2021-01-27","value":1200},{"series":"中证消费","date":"2021-01-30","value":1198},{"series":"中证消费","date":"2021-02-01","value":1243},{"series":"中证消费","date":"2021-02-06","value":1262},{"series":"中证消费","date":"2021-02-08","value":1315},{"series":"中证消费","date":"2021-02-16","value":1362},{"series":"中证消费","date":"2021-02-17","value":1323},{"series":"中证消费","date":"2021-02-20","value":1343},{"series":"中证消费","date":"2021-02-21","value":1276},{"series":"中证消费","date":"2021-02-23","value":1224},{"series":"中证消费","date":"2021-02-25","value":1195},{"series":"中证消费","date":"2021-02-27","value":1175},{"series":"中证消费","date":"2021-02-28","value":1180},{"series":"中证消费","date":"2021-03-02","value":1166},{"series":"中证消费","date":"2021-03-03","value":1131},{"series":"中证消费","date":"2021-03-06","value":1128},{"series":"中证消费","date":"2021-03-08","value":1037},{"series":"中证消费","date":"2021-03-10","value":1080},{"series":"中证消费","date":"2021-03-12","value":1080},{"series":"中证消费","date":"2021-03-14","value":1041},{"series":"中证消费","date":"2021-03-17","value":1099},{"series":"中证消费","date":"2021-03-20","value":1070},{"series":"中证消费","date":"2021-03-22","value":1075},{"series":"中证消费","date":"2021-03-23","value":1061},{"series":"中证消费","date":"2021-03-26","value":1080},{"series":"中证消费","date":"2021-03-29","value":1103},{"series":"中证消费","date":"2021-03-31","value":1098},{"series":"中证消费","date":"2021-04-04","value":1142},{"series":"中证消费","date":"2021-04-06","value":1108},{"series":"中证消费","date":"2021-04-08","value":1112},{"series":"中证消费","date":"2021-04-11","value":1090},{"series":"中证消费","date":"2021-04-13","value":1099},{"series":"中证消费","date":"2021-04-16","value":1100},{"series":"中证消费","date":"2021-04-19","value":1137},{"series":"中证消费","date":"2021-04-22","value":1142},{"series":"中证消费","date":"2021-04-24","value":1157},{"series":"中证消费","date":"2021-04-25","value":1133},{"series":"中证消费","date":"2021-04-28","value":1171},{"series":"中证消费","date":"2021-05-04","value":1166},{"series":"中证消费","date":"2021-05-06","value":1128},{"series":"中证消费","date":"2021-05-09","value":1113},{"series":"中证消费","date":"2021-05-10","value":1094},{"series":"中证消费","date":"2021-05-11","value":1133},{"series":"中证消费","date":"2021-05-13","value":1146},{"series":"中证消费","date":"2021-05-15","value":1176},{"series":"中证消费","date":"2021-05-17","value":1166},{"series":"中证消费","date":"2021-05-18","value":1180},{"series":"中证消费","date":"2021-05-21","value":1171},{"series":"中证消费","date":"2021-05-24","value":1215},{"series":"中证消费","date":"2021-05-26","value":1205},{"series":"中证消费","date":"2021-05-29","value":1207},{"series":"中证消费","date":"2021-05-31","value":1200},{"series":"中证消费","date":"2021-06-04","value":1212},{"series":"中证消费","date":"2021-06-05","value":1215},{"series":"中证消费","date":"2021-06-07","value":1171},{"series":"中证消费","date":"2021-06-09","value":1185},{"series":"中证消费","date":"2021-06-12","value":1166},{"series":"中证消费","date":"2021-06-14","value":1142},{"series":"中证消费","date":"2021-06-16","value":1142},{"series":"中证消费","date":"2021-06-19","value":1123},{"series":"中证消费","date":"2021-06-22","value":1108},{"series":"中证消费","date":"2021-06-23","value":1108},{"series":"中证消费","date":"2021-06-25","value":1123},{"series":"中证消费","date":"2021-06-27","value":1146},{"series":"中证消费","date":"2021-06-28","value":1128},{"series":"中证消费","date":"2021-06-30","value":1137},{"series":"中证消费","date":"2021-07-03","value":1108},{"series":"中证消费","date":"2021-07-05","value":1099},{"series":"中证消费","date":"2021-07-07","value":1070},{"series":"中证消费","date":"2021-07-10","value":1056},{"series":"中证消费","date":"2021-07-12","value":1085},{"series":"中证消费","date":"2021-07-14","value":1104},{"series":"中证消费","date":"2021-07-16","value":1090},{"series":"中证消费","date":"2021-07-19","value":1085},{"series":"中证消费","date":"2021-07-21","value":1065},{"series":"中证消费","date":"2021-07-24","value":1041},{"series":"中证消费","date":"2021-07-25","value":975},{"series":"中证消费","date":"2021-07-26","value":955},{"series":"中证消费","date":"2021-07-28","value":950},{"series":"中证消费","date":"2021-07-31","value":922}
]},
"mark":{"type":"line","strokeWidth":3,"strokeJoin":"round","strokeCap":"round"},
"encoding":{
"x":{"field":"date","type":"temporal","scale":{"type":"utc","domain":[{"year":2020,"month":8,"date":1,"utc":true},{"year":2021,"month":7,"date":31,"utc":true}],"nice":false},
"axis":{"title":null,"format":"%Y-%m","tickCount":{"interval":"month","step":1},"grid":false,"domain":false,"ticks":false,"tickSize":0,"labelPadding":12,"labelFlush":false,"labelOverlap":false,"labelFont":"Noto Sans CJK SC","labelFontSize":16,"labelColor":"#595959"}},
"y":{"field":"value","type":"quantitative","scale":{"domain":[600,2200],"nice":false,"zero":false},
"axis":{"title":null,"format":"d","values":[600,800,1000,1200,1400,1600,1800,2000,2200],"grid":true,"gridColor":"#D9D9D9","gridWidth":1,"domain":false,"ticks":false,"tickSize":0,"labelPadding":16,"labelFont":"Noto Sans CJK SC","labelFontSize":16,"labelColor":"#595959"}},
"color":{"field":"series","type":"nominal","scale":{"domain":["中证新能","中证半导","中证医药","中证军工","中证消费"],"range":["#ED7D31","#9DC3E6","#BF9000","#FFD966","#A9D18E"]},
"legend":{"title":null,"orient":"none","legendX":90,"legendY":-50,"direction":"horizontal","symbolType":"stroke","symbolSize":1024,"symbolStrokeWidth":3,"labelFont":"Noto Sans CJK SC","labelFontSize":18,"labelColor":"#595959","labelOffset":4,"columnPadding":14}}
}
}
